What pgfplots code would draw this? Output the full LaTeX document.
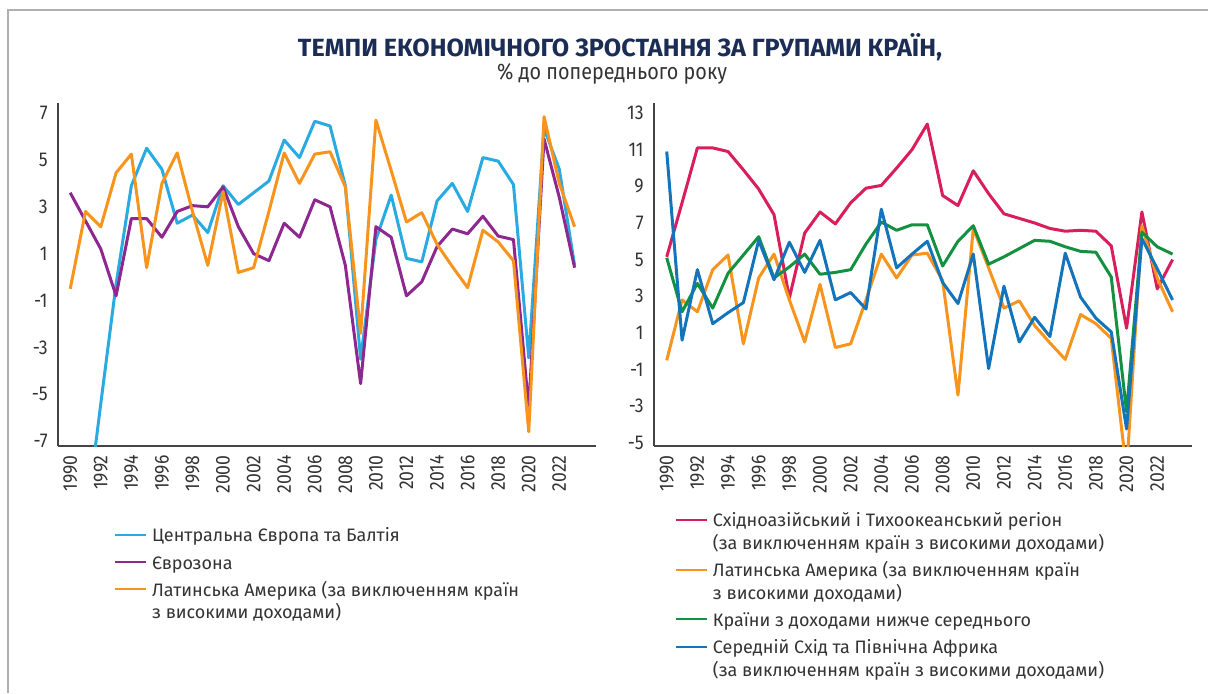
\documentclass[border=0pt]{standalone}
\usepackage{fontspec}
\setmainfont{Fira Sans}
\newfontfamily\tickfont[FakeStretch=0.88]{Fira Sans}
\newfontfamily\titlefont{Fira Sans}
\usepackage{pgfplots}
\pgfplotsset{compat=1.18}
\definecolor{cCEB}{HTML}{29ABE2}
\definecolor{cEZ}{HTML}{8E278F}
\definecolor{cLA}{HTML}{F7941D}
\definecolor{cEAP}{HTML}{D81E5B}
\definecolor{cLMI}{HTML}{139040}
\definecolor{cMENA}{HTML}{1474BB}
\definecolor{navy}{HTML}{1C2D55}
\definecolor{txt}{HTML}{333333}
\definecolor{axgray}{HTML}{444444}
\definecolor{framegray}{HTML}{B0B0B0}

\pgfplotstableread{
year cyan purple orange
1990 nan 3.6 -0.5
1991 -10.6 2.4 2.8
1992 -5.4 1.2 2.15
1993 -0.3 -0.8 4.45
1994 3.9 2.5 5.25
1995 5.5 2.5 0.4
1996 4.6 1.7 4.0
1997 2.3 2.8 5.3
1998 2.65 3.05 2.8
1999 1.9 3.0 0.5
2000 3.9 3.85 3.65
2001 3.1 2.15 0.2
2002 3.6 1.0 0.4
2003 4.1 0.7 2.8
2004 5.85 2.3 5.3
2005 5.1 1.7 4.0
2006 6.65 3.3 5.25
2007 6.45 3.0 5.35
2008 3.9 0.5 3.85
2009 -3.5 -4.55 -2.4
2010 1.6 2.15 6.7
2011 3.5 1.7 4.55
2012 0.8 -0.8 2.35
2013 0.65 -0.2 2.75
2014 3.25 1.3 1.4
2015 4.0 2.05 0.45
2016 2.8 1.85 -0.45
2017 5.1 2.6 2.0
2018 4.95 1.75 1.5
2019 3.95 1.6 0.7
2020 -3.45 -5.6 -6.6
2021 6.35 5.9 6.85
2022 4.6 3.4 4.0
2023 0.5 0.4 2.15
}\lefttable

\pgfplotstableread{
year red orange green blue
1990 5.15 -0.5 5.1 10.9
1991 8.1 2.8 2.15 0.6
1992 11.1 2.15 3.7 4.45
1993 11.1 4.45 2.35 1.5
1994 10.9 5.25 4.25 2.1
1995 9.9 0.4 5.25 2.65
1996 8.85 4.0 6.25 6.05
1997 7.45 5.3 4.0 3.9
1998 2.9 2.8 4.6 5.95
1999 6.45 0.5 5.3 4.3
2000 7.6 3.65 4.2 6.05
2001 6.95 0.2 4.3 2.8
2002 8.1 0.4 4.45 3.2
2003 8.9 2.8 5.85 2.3
2004 9.05 5.3 7.05 7.75
2005 10.0 4.0 6.6 4.55
2006 11.0 5.25 6.9 5.3
2007 12.4 5.35 6.9 6.0
2008 8.5 3.85 4.65 3.75
2009 7.95 -2.4 6.0 2.6
2010 9.85 6.7 6.85 5.3
2011 8.6 4.55 4.75 -0.95
2012 7.5 2.35 5.15 3.55
2013 7.25 2.75 5.6 0.5
2014 7.0 1.4 6.05 1.85
2015 6.7 0.45 6.0 0.8
2016 6.55 -0.45 5.7 5.35
2017 6.6 2.0 5.45 2.95
2018 6.55 1.5 5.4 1.8
2019 5.75 0.7 4.05 1.05
2020 1.25 -6.6 -3.3 -4.25
2021 7.6 6.85 6.5 6.15
2022 3.4 4.0 5.7 4.5
2023 5.0 2.15 5.3 2.8
}\righttable

\pgfplotsset{
  twoline/.style={legend image code/.code={\draw[##1, line width=1pt] (0pt,14.65pt) -- (15.5pt,14.65pt);}},
  mystyle/.style={
    scale only axis, width=269pt, height=171.5pt, anchor=south west,
    axis x line*=bottom, axis y line*=left,
    axis line style={line width=0.7pt, color=axgray},
    major tick length=0pt,
    xtick={1990,1992,...,2022},
    /pgf/number format/1000 sep={},
    /pgf/number format/assume math mode=true,
    xticklabel style={rotate=90, anchor=east, inner sep=0pt, inner xsep=4.5pt,
      font=\tickfont\fontsize{10pt}{12pt}\selectfont, text=txt},
    yticklabel style={anchor=east, inner sep=0pt, xshift=-5pt,
      font=\tickfont\fontsize{10pt}{12pt}\selectfont, text=txt},
    every axis plot/.append style={line width=1.5pt, line join=round, mark=none},
    unbounded coords=jump,
    legend cell align=left,
    legend image code/.code={\draw[##1, line width=1pt] (0pt,3.4pt) -- (15.5pt,3.4pt);},
    legend style={draw=none, fill=none, inner sep=0pt, outer sep=0pt,
      row sep=4.25pt,
      nodes={inner sep=0pt, align=left, text=txt, font=\fontsize{9pt}{11.25pt}\selectfont},
      cells={anchor=base west},
      /tikz/every odd column/.append style={column sep=2.5pt}},
  }
}

\begin{document}
\begin{tikzpicture}
\useasboundingbox (0,0) rectangle (604pt,-346.5pt);
\draw[framegray, line width=1pt] (4pt,-346.5pt) -- (4pt,-5pt) -- (604pt,-5pt);

\node[anchor=base, text=navy] at (310pt,-28pt) {\resizebox{322pt}{11.5pt}{\titlefont\bfseries ТЕМПИ ЕКОНОМІЧНОГО ЗРОСТАННЯ ЗА ГРУПАМИ КРАЇН,}};
\node[anchor=base, text=txt] at (306pt,-39.5pt) {\resizebox{115pt}{8pt}{\titlefont\% до попереднього року}};

\begin{axis}[mystyle, at={(29pt,-223pt)},
  xmin=1989.2, xmax=2024.4, ymin=-7.21, ymax=7.43,
  ytick={-7,-5,...,7},
  legend style={at={(axis description cs:0.1041,-0.2332)}, anchor=north west}]
\addplot[cCEB] table[x=year, y=cyan] {\lefttable};
\addlegendentry{\strut Центральна Європа та Балтія}
\addplot[cEZ] table[x=year, y=purple] {\lefttable};
\addlegendentry{\strut Єврозона}
\addplot[cLA, twoline] table[x=year, y=orange] {\lefttable};
\addlegendentry{\strut Латинська Америка (за виключенням країн\\\strut з високими доходами)}
\end{axis}

\begin{axis}[mystyle, at={(327pt,-223pt)},
  xmin=1989.17, xmax=2024.27, ymin=-5.18, ymax=13.55,
  ytick={-5,-3,...,13},
  legend style={at={(axis description cs:0.039,-0.1895)}, anchor=north west}]
\addplot[cEAP, twoline] table[x=year, y=red] {\righttable};
\addlegendentry{\strut Східноазійський і Тихоокеанський регіон\\\strut (за виключенням країн з високими доходами)}
\addplot[cLA, twoline] table[x=year, y=orange] {\righttable};
\addlegendentry{\strut Латинська Америка (за виключенням країн\\\strut з високими доходами)}
\addplot[cLMI] table[x=year, y=green] {\righttable};
\addlegendentry{\strut Країни з доходами нижче середнього}
\addplot[cMENA, twoline] table[x=year, y=blue] {\righttable};
\addlegendentry{\strut Середній Схід та Північна Африка\\\strut (за виключенням країн з високими доходами)}
\end{axis}
\end{tikzpicture}
\end{document}
